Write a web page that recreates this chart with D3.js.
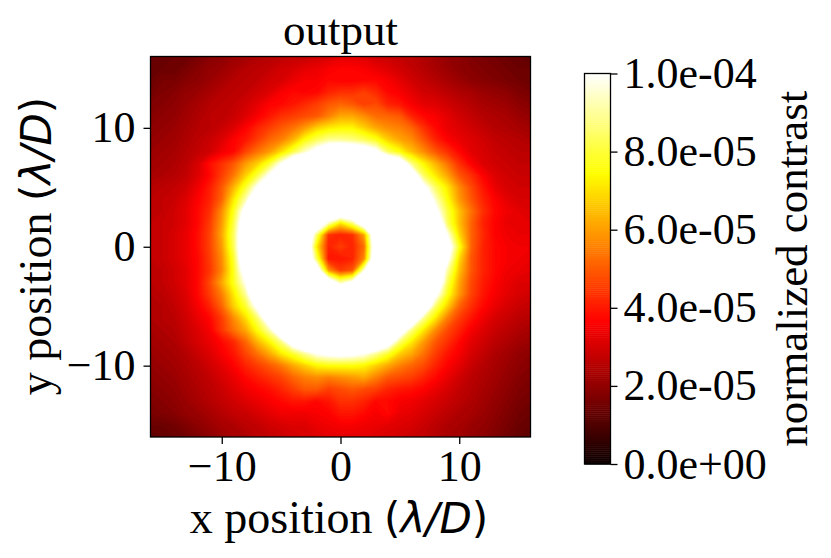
<!DOCTYPE html>
<html>
<head>
<meta charset="utf-8">
<script src="https://cdn.jsdelivr.net/npm/d3@7"></script>
<style>
  html, body { margin: 0; padding: 0; background: #fff; }
  text { font-family: "Liberation Serif", serif; fill: #000; }
  .math { font-family: "DejaVu Sans", sans-serif; }
</style>
</head>
<body>
<svg id="chart" width="831" height="558"></svg>
<script>
// normalized contrast in units of 1e-6, rows run y = 16 .. -16, columns x = -16 .. 16 (lambda/D)
const contrast = [
  [14,14,15,15,17,19,20,22,23,25,26,27,28,28,30,31,33,33,32,30,29,28,27,25,23,21,20,18,17,16,15,14,13],
  [14,15,15,17,19,21,22,24,26,27,28,30,31,33,34,36,37,37,36,34,32,30,28,26,24,22,20,19,18,17,16,15,15],
  [15,17,17,19,20,22,24,26,27,28,30,31,34,36,36,38,37,37,38,38,36,33,30,28,26,24,22,20,19,18,17,16,15],
  [16,18,19,21,22,24,26,27,28,30,32,36,38,37,38,42,44,44,46,43,38,36,33,30,29,27,25,24,22,21,20,18,17],
  [18,19,20,22,24,26,27,28,30,33,37,38,40,43,46,50,52,50,46,48,42,40,36,33,32,30,28,26,24,23,22,20,19],
  [19,20,21,23,25,27,27,29,32,36,40,44,46,48,50,56,62,62,58,53,52,50,42,38,36,33,30,28,26,25,24,22,21],
  [20,21,22,24,26,27,29,32,37,42,46,50,54,60,68,72,74,74,68,62,58,56,52,44,38,34,32,30,28,26,25,24,23],
  [21,22,23,25,27,29,32,37,40,46,52,56,64,76,84,90,90,88,84,78,68,62,58,50,42,37,34,32,30,28,27,26,25],
  [22,23,24,26,28,30,35,38,47,54,60,70,82,95,108,120,125,120,115,105,85,76,66,58,50,44,38,33,31,29,28,27,27],
  [23,24,25,27,31,39,44,50,60,68,80,100,125,130,130,130,130,130,130,130,130,118,88,74,64,54,44,37,32,30,29,28,28],
  [24,25,26,28,32,38,46,55,68,82,102,130,130,130,130,130,130,130,130,130,130,130,115,85,72,62,50,44,37,32,30,29,29],
  [26,27,28,30,35,41,50,64,80,102,130,130,130,130,130,130,130,130,130,130,130,130,130,105,85,72,58,48,40,34,31,30,30],
  [27,28,29,32,37,42,52,72,92,125,130,130,130,130,130,130,130,130,130,130,130,130,130,125,95,76,60,50,42,37,33,31,31],
  [27,28,30,33,38,44,58,78,108,130,130,130,130,130,130,130,130,130,130,130,130,130,130,130,105,82,66,54,44,38,35,33,32],
  [28,29,30,33,38,46,60,82,118,130,130,130,130,130,122,94,72,88,118,130,130,130,130,130,125,85,66,52,42,37,34,33,33],
  [28,29,31,34,39,47,62,85,122,130,130,130,130,130,86,44,42,44,62,125,130,130,130,130,130,100,70,52,43,37,35,34,34],
  [28,29,31,34,39,47,60,84,125,130,130,130,130,130,72,42,46,42,54,120,130,130,130,130,130,112,78,52,42,38,36,35,35],
  [28,29,31,34,38,46,58,80,122,130,130,130,130,130,84,40,40,42,58,125,130,130,130,130,130,105,70,50,42,38,36,35,34],
  [27,28,30,33,38,45,57,78,112,130,130,130,130,130,116,60,46,50,98,130,130,130,130,130,130,92,66,50,42,38,35,34,33],
  [27,28,30,33,38,48,62,78,100,130,130,130,130,130,130,118,92,105,130,130,130,130,130,130,125,84,62,48,41,37,34,32,32],
  [26,27,29,32,38,46,56,72,90,125,130,130,130,130,130,130,130,130,130,130,130,130,130,130,105,78,60,47,40,36,33,31,30],
  [25,26,28,31,36,42,52,68,80,105,130,130,130,130,130,130,130,130,130,130,130,130,130,122,86,68,52,44,38,34,31,29,28],
  [25,26,27,30,34,38,46,58,70,86,115,130,130,130,130,130,130,130,130,130,130,130,125,90,72,56,46,40,35,31,29,27,26],
  [24,25,26,29,32,36,45,54,62,76,92,122,130,130,130,130,130,130,130,130,130,115,88,72,58,48,42,36,32,29,27,25,24],
  [23,24,25,28,31,34,38,43,52,64,74,88,112,130,130,130,130,130,130,130,112,86,72,60,50,44,38,33,30,27,25,23,22],
  [22,23,24,26,29,32,36,40,47,54,62,72,80,90,100,104,106,104,100,90,80,68,62,54,46,40,36,31,28,25,23,21,20],
  [21,22,23,25,27,30,33,37,42,46,50,55,62,68,74,76,76,76,74,68,62,56,52,48,42,37,33,29,26,24,22,20,19],
  [20,21,22,24,26,28,31,34,38,41,44,47,52,56,58,56,58,60,62,56,50,48,46,42,38,34,30,27,25,23,21,19,18],
  [19,20,21,23,25,27,29,32,35,37,39,42,46,50,50,46,48,50,48,46,42,40,39,37,34,31,28,26,24,22,20,18,17],
  [18,19,20,22,24,26,28,30,32,34,36,38,40,40,38,40,44,44,42,38,38,36,35,33,31,29,27,25,23,21,19,17,16],
  [17,18,19,21,22,24,26,28,29,31,33,35,35,35,36,37,40,40,38,36,38,34,33,31,29,27,25,24,22,20,18,16,15],
  [15,15,16,18,20,22,24,25,27,28,30,31,32,32,34,35,36,36,35,34,33,32,31,29,27,25,24,22,21,19,17,15,14],
  [13,14,15,16,18,20,22,24,25,27,28,29,30,31,32,33,33,33,33,32,31,30,29,28,26,24,23,21,20,18,16,14,13]
];
const xTicks = [-10, 0, 10];
const yTicks = [-10, 0, 10];
const colorbarTicks = [0, 20, 40, 60, 80, 100];
const colorbarLabels = ["0.0e+00", "2.0e-05", "4.0e-05", "6.0e-05", "8.0e-05", "1.0e-04"];

const svg = d3.select("#chart");
const plot = { left: 150.5, right: 530.5, top: 56.5, bottom: 437 };
const bar = { left: 584.5, right: 610.5, top: 73.5, bottom: 464 };

const x = d3.scaleLinear().domain([-16, 16]).range([plot.left, plot.right]);
const y = d3.scaleLinear().domain([-16, 16]).range([plot.bottom, plot.top]);

// matplotlib "hot"
const hot = d3.scaleLinear()
  .domain([0, 36.5, 74.6, 100])
  .range(["#0b0000", "#ff0000", "#ffff00", "#ffffff"])
  .clamp(true);

const defs = svg.append("defs");
defs.append("clipPath").attr("id", "plotClip")
  .append("rect")
  .attr("x", plot.left).attr("y", plot.top)
  .attr("width", plot.right - plot.left).attr("height", plot.bottom - plot.top);

// heatmap as filled contours, grid points sit in the middle of the contour cells
const nRows = contrast.length;
const nCols = contrast[0].length;
const gridX = d3.scaleLinear().domain([0, nCols]).range([x(-16.5), x(16.5)]);
const gridY = d3.scaleLinear().domain([0, nRows]).range([y(16.5), y(-16.5)]);
const toPixels = d3.geoTransform({
  point(px, py) { this.stream.point(gridX(px), gridY(py)); }
});
const contours = d3.contours()
  .size([nCols, nRows])
  .thresholds(d3.range(0, 101, 1))(contrast.flat());

svg.append("g")
  .attr("clip-path", "url(#plotClip)")
  .selectAll("path")
  .data(contours)
  .join("path")
  .attr("d", d3.geoPath(toPixels))
  .attr("fill", d => hot(d.value));

// axes
function styleAxis(g) {
  g.selectAll("text").attr("font-size", 44).style("font-family", '"Liberation Serif", serif');
  g.selectAll("line").attr("stroke", "#000").attr("stroke-width", 1.3);
  g.select(".domain").remove();
}
const fmt = d => (d < 0 ? "\u2212" + Math.abs(d) : d);

svg.append("g")
  .attr("transform", `translate(0,${plot.bottom})`)
  .call(d3.axisBottom(x).tickValues(xTicks).tickFormat(fmt).tickSize(7).tickPadding(6))
  .call(styleAxis);

svg.append("g")
  .attr("transform", `translate(${plot.left},0)`)
  .call(d3.axisLeft(y).tickValues(yTicks).tickFormat(fmt).tickSize(7).tickPadding(8))
  .call(styleAxis);

svg.append("rect")
  .attr("x", plot.left).attr("y", plot.top)
  .attr("width", plot.right - plot.left).attr("height", plot.bottom - plot.top)
  .attr("fill", "none").attr("stroke", "#000").attr("stroke-width", 1.3);

// titles
svg.append("text")
  .attr("x", (plot.left + plot.right) / 2).attr("y", 45)
  .attr("text-anchor", "middle").attr("font-size", 45)
  .text("output");

function axisLabel(sel, name) {
  sel.attr("text-anchor", "middle").attr("font-size", 46);
  sel.append("tspan").text(name + " position ");
  sel.append("tspan").attr("class", "math").attr("font-size", 42).text("(");
  sel.append("tspan").attr("class", "math").attr("font-size", 42).attr("font-style", "italic").text("\u03bb/D");
  sel.append("tspan").attr("class", "math").attr("font-size", 42).text(")");
}
svg.append("text")
  .attr("x", 339).attr("y", 533)
  .call(axisLabel, "x");
svg.append("text")
  .attr("transform", "translate(51,246) rotate(-90)")
  .call(axisLabel, "y");

// colorbar
const barScale = d3.scaleLinear().domain([0, 100]).range([bar.bottom, bar.top]);
const barSteps = d3.range(0, 100, 0.5);
svg.append("g")
  .selectAll("rect")
  .data(barSteps)
  .join("rect")
  .attr("x", bar.left)
  .attr("width", bar.right - bar.left)
  .attr("y", d => barScale(d + 0.5))
  .attr("height", d => barScale(d) - barScale(d + 0.5) + 0.5)
  .attr("fill", d => hot(d + 0.25));

svg.append("rect")
  .attr("x", bar.left).attr("y", bar.top)
  .attr("width", bar.right - bar.left).attr("height", bar.bottom - bar.top)
  .attr("fill", "none").attr("stroke", "#000").attr("stroke-width", 1.3);

svg.append("g")
  .attr("transform", `translate(${bar.right},0)`)
  .call(d3.axisRight(barScale).tickValues(colorbarTicks)
    .tickFormat((d, i) => colorbarLabels[i]).tickSize(7).tickPadding(6))
  .call(styleAxis);

svg.append("text")
  .attr("transform", `translate(807,${(bar.top + bar.bottom) / 2}) rotate(-90)`)
  .attr("text-anchor", "middle").attr("font-size", 45)
  .text("normalized contrast");
</script>
</body>
</html>
